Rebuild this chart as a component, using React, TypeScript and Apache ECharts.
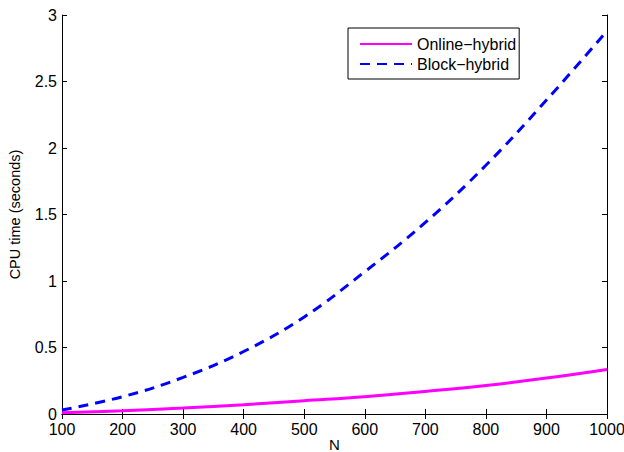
import React, { useEffect, useRef } from "react";
import * as echarts from "echarts";

const nValues = [100, 200, 300, 400, 500, 600, 700, 800, 900, 1000];
const onlineHybrid = [0.01, 0.025, 0.045, 0.07, 0.1, 0.13, 0.17, 0.215, 0.27, 0.335];
const blockHybrid = [0.03, 0.13, 0.275, 0.47, 0.73, 1.07, 1.44, 1.87, 2.36, 2.88];
const seriesNames = ["Online\u2212hybrid", "Block\u2212hybrid"];

const FONT = "'Liberation Sans', Arial, sans-serif";

export default function App() {
  const ref = useRef<HTMLDivElement>(null);
  useEffect(() => {
    if (!ref.current) return;
    const chart = echarts.init(ref.current, undefined, { renderer: "svg" });
    const axisLine = { show: true, lineStyle: { color: "#000", width: 1 } };
    const tick = { show: true, inside: true, length: 5, lineStyle: { color: "#000" } };
    chart.setOption({
      animation: false,
      backgroundColor: "#fff",
      grid: { left: 62, top: 15, right: 17, bottom: 38, containLabel: false, outerBoundsMode: "none" },
      legend: {
        orient: "vertical",
        left: 348,
        top: 28,
        padding: [8, 3, 7, 11],
        itemGap: 4,
        itemWidth: 52,
        itemHeight: 16,
        itemStyle: { opacity: 0 },
        borderColor: "#000",
        borderWidth: 1,
        backgroundColor: "#fff",
        textStyle: { fontFamily: FONT, fontSize: 16, color: "#000" },
        data: seriesNames,
      },
      xAxis: [
        {
          type: "value",
          min: 100,
          max: 1000,
          interval: 100,
          position: "bottom",
          name: "N",
          nameLocation: "middle",
          nameGap: 23,
          nameMoveOverlap: false,
          nameTextStyle: { fontFamily: FONT, fontSize: 15, color: "#000", verticalAlign: "top" },
          axisLine,
          axisTick: tick,
          axisLabel: { fontFamily: FONT, fontSize: 16, color: "#000", margin: 7, formatter: (v: number) => String(v) },
          splitLine: { show: false },
        },
        {
          type: "value",
          min: 100,
          max: 1000,
          interval: 100,
          position: "top",
          axisLine,
          axisTick: tick,
          axisLabel: { show: false },
          splitLine: { show: false },
        },
      ],
      yAxis: [
        {
          type: "value",
          min: 0,
          max: 3,
          interval: 0.5,
          position: "left",
          name: "CPU time (seconds)",
          nameLocation: "middle",
          nameGap: 40,
          nameMoveOverlap: false,
          nameRotate: 90,
          nameTextStyle: { fontFamily: FONT, fontSize: 14.5, color: "#000" },
          axisLine,
          axisTick: tick,
          axisLabel: { fontFamily: FONT, fontSize: 16, color: "#000", margin: 5 },
          splitLine: { show: false },
        },
        {
          type: "value",
          min: 0,
          max: 3,
          interval: 0.5,
          position: "right",
          axisLine,
          axisTick: tick,
          axisLabel: { show: false },
          splitLine: { show: false },
        },
      ],
      series: [
        {
          name: seriesNames[0],
          type: "line",
          smooth: 0.4,
          showSymbol: false,
          symbol: "none",
          data: nValues.map((n, i) => [n, onlineHybrid[i]]),
          lineStyle: { color: "#ff00ff", width: 3 },
          itemStyle: { color: "#ff00ff" },
        },
        {
          name: seriesNames[1],
          type: "line",
          smooth: 0.4,
          showSymbol: false,
          symbol: "none",
          data: nValues.map((n, i) => [n, blockHybrid[i]]),
          lineStyle: { color: "#0000ff", width: 3, type: [10, 7] },
          itemStyle: { color: "#0000ff" },
        },
      ],
    });
    return () => chart.dispose();
  }, []);
  return <div ref={ref} style={{ width: 624, height: 452, position: "absolute", left: 0, top: 0 }} />;
}
